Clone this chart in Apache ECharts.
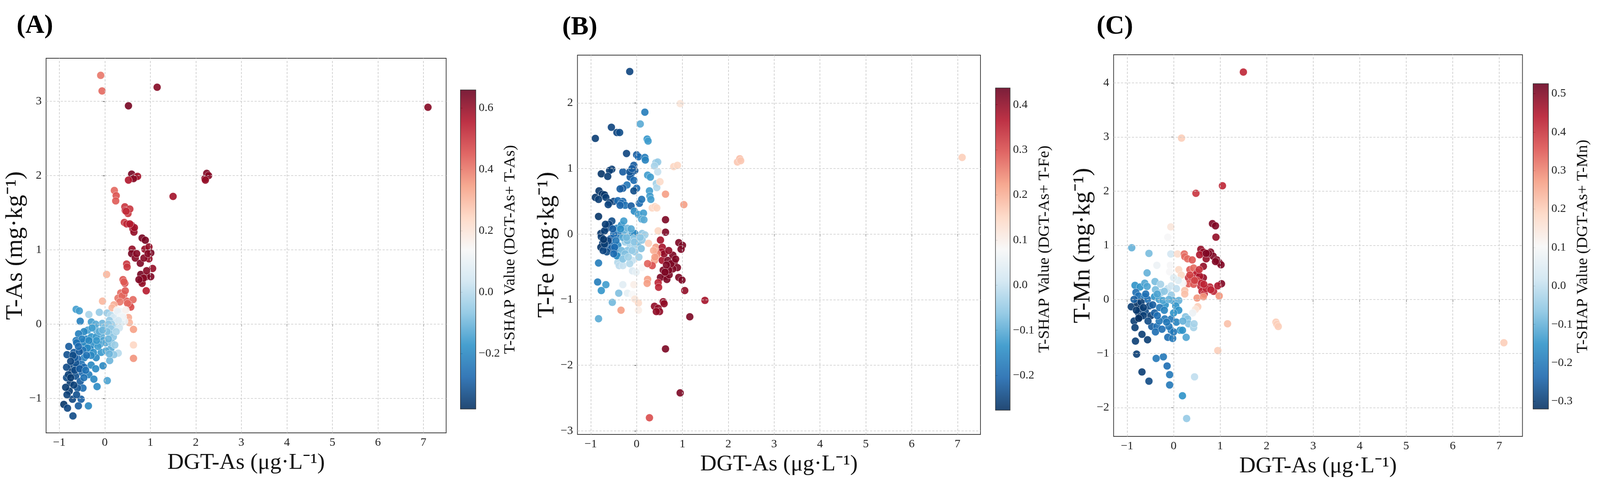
<!DOCTYPE html>
<html>
<head>
<meta charset="utf-8">
<title>SHAP interaction scatter</title>
<script src="https://cdn.jsdelivr.net/npm/echarts@6/dist/echarts.min.js"></script>
<style>
  html, body { margin: 0; padding: 0; background: #fff; overflow: hidden; }
  #chart { width: 100vw; height: 100vh; }
</style>
</head>
<body>
<div id="chart"></div>
<script>
// ---- data: [DGT-As, T-metal, T-SHAP interaction value] ----
const pointsA = [
  [-0.09,3.35,0.40],[-0.06,3.14,0.42],[1.15,3.19,0.62],[0.52,2.94,0.64],[7.1,2.92,0.62],
  [2.2,1.96,0.62],[2.24,2.03,0.63],[2.28,2.0,0.62],[2.21,1.94,0.6],[1.5,1.72,0.58],
  [0.59,2.02,0.64],[0.67,1.98,0.6],[0.72,1.99,0.58],[0.63,1.96,0.62],[0.52,1.94,0.56],
  [0.21,1.8,0.42],[0.25,1.73,0.45],[0.24,1.66,0.44],
  [0.44,1.58,0.5],[0.45,1.53,0.52],[0.51,1.49,0.5],[0.43,1.37,0.5],[0.48,1.35,0.52],
  [0.59,1.33,0.6],[0.62,1.28,0.58],[0.64,1.24,0.6],[0.82,1.16,0.64],[0.89,1.13,0.64],
  [0.6,1.01,0.6],[0.59,0.95,0.64],[0.67,0.89,0.62],[0.78,0.82,0.63],[0.88,1.01,0.6],
  [0.97,1.04,0.6],[1.01,0.96,0.64],[0.97,0.88,0.6],[0.86,0.89,0.62],
  [0.48,0.81,0.5],[0.49,0.77,0.5],[0.55,1.55,0.5],[0.65,1.3,0.58],[0.95,0.95,0.62],
  [0.79,0.67,0.64],[0.8,0.58,0.62],[0.91,0.64,0.62],[1.05,0.75,0.6],[1.01,0.64,0.63],
  [0.82,0.55,0.6],[0.91,0.45,0.55],[0.85,0.62,0.62],
  [0.7,0.95,0.62],[0.92,0.72,0.62],[0.75,0.6,0.63],[0.47,1.52,0.52],[0.55,1.35,0.55],
  [0.04,0.67,0.3],[0.4,0.6,0.45],[0.44,0.55,0.46],[0.42,0.57,0.44],
  [0.35,0.42,0.42],[0.42,0.4,0.44],[0.29,0.35,0.4],[0.48,0.31,0.43],[0.62,0.33,0.42],
  [0.54,0.26,0.45],[0.57,0.23,0.46],[0.38,0.38,0.42],[0.5,0.28,0.42],[0.45,0.45,0.44],[0.33,0.3,0.4],
  [-0.05,0.31,0.3],[0.2,0.26,0.32],[0.16,0.22,0.3],
  [0.27,0.19,0.16],[0.35,0.17,0.12],[0.46,0.19,0.16],
  [0.52,0.09,0.32],[0.54,0.02,0.3],[0.63,-0.07,0.34],[0.63,-0.28,0.24],[0.63,-0.46,0.36],
  [-0.63,0.2,-0.15],[-0.56,0.18,-0.15],[-0.54,0.04,-0.22],[-0.35,0.13,-0.02],[-0.12,0.16,-0.05],
  [0.05,0.15,-0.05],[0.13,0.12,0.0],[0.2,0.09,0.05],[0.28,0.17,0.1],[0.35,0.1,0.12],
  [0.43,0.04,0.1],[0.24,0.02,0.02],[0.35,0.01,0.08],[0.19,-0.04,-0.02],[0.1,0.05,-0.05],
  [0.15,0.0,-0.03],[0.32,-0.05,0.04],[0.4,0.1,0.12],
  [-0.295,0.03,-0.15],[-0.228,-0.04,-0.12],[-0.375,-0.08,-0.15],[-0.456,-0.1,-0.2],
  [-0.576,-0.13,-0.22],[-0.63,-0.22,-0.23],[-0.40,-0.2,-0.2],[-0.295,-0.17,-0.17],
  [-0.188,-0.08,-0.12],[-0.054,0.01,-0.1],[0.0,-0.04,-0.08],[0.08,0.0,-0.06],
  [0.134,-0.06,-0.05],[-0.08,-0.15,-0.12],[-0.188,-0.17,-0.16],[-0.027,-0.22,-0.14],
  [0.107,-0.13,-0.08],[0.188,-0.17,-0.06],[0.134,-0.33,-0.12],[-0.107,-0.27,-0.15],
  [-0.255,-0.27,-0.18],[-0.322,-0.33,-0.2],[-0.43,-0.31,-0.22],[-0.47,-0.24,-0.2],
  [-0.08,-0.38,-0.16],[0.027,-0.36,-0.13],[0.107,-0.49,-0.1],[-0.04,-0.56,-0.2],
  [0.295,-0.39,0.0],[0.2,-0.41,-0.06],[-0.19,-0.45,-0.2],[0.054,-0.76,-0.14],
  [-0.15,-0.3,-0.15],[0.05,-0.1,-0.08],[-0.2,0.0,-0.12],[0.25,-0.1,-0.02],[0.3,0.05,0.05],
  [-0.45,-0.45,-0.22],[-0.3,-0.55,-0.2],[-0.5,-0.2,-0.22],[-0.38,-0.32,-0.2],[-0.25,-0.38,-0.18],
  [-0.12,-0.1,-0.12],[0.02,-0.25,-0.12],[-0.28,-0.05,-0.15],[0.15,-0.25,-0.08],
  [-0.62,-0.25,-0.25],[-0.48,-0.35,-0.24],[-0.35,-0.22,-0.2],[-0.18,-0.22,-0.16],[-0.05,-0.08,-0.1],
  [0.08,-0.2,-0.1],[-0.3,-0.42,-0.2],[-0.2,-0.6,-0.19],[0.1,-0.4,-0.1],[0.22,-0.28,-0.04],
  [-0.79,-0.3,-0.3],[-0.83,-0.41,-0.32],[-0.68,-0.38,-0.3],[-0.56,-0.37,-0.3],
  [-0.59,-0.47,-0.28],[-0.72,-0.57,-0.33],[-0.84,-0.58,-0.33],[-0.62,-0.58,-0.3],
  [-0.51,-0.54,-0.25],[-0.456,-0.58,-0.27],[-0.72,-0.64,-0.36],[-0.76,-0.79,-0.36],
  [-0.84,-0.72,-0.33],[-0.64,-0.7,-0.32],[-0.54,-0.77,-0.3],[-0.48,-0.86,-0.26],
  [-0.35,-0.68,-0.22],[-0.24,-0.74,-0.2],[-0.17,-0.84,-0.19],[-0.78,-0.9,-0.36],
  [-0.71,-1.01,-0.34],[-0.83,-0.95,-0.35],[-0.9,-1.08,-0.37],[-0.82,-1.13,-0.34],
  [-0.52,-1.01,-0.29],[-0.58,-1.1,-0.3],[-0.36,-1.1,-0.2],[-0.7,-1.235,-0.33],
  [-0.4,-0.42,-0.25],[-0.64,-0.52,-0.32],[-0.66,-0.45,-0.3],[-0.5,-0.65,-0.27],[-0.6,-0.86,-0.31],
  [-0.7,-0.42,-0.33],[-0.75,-0.5,-0.34],[-0.66,-0.62,-0.33],[-0.58,-0.3,-0.27],
  [-0.68,-0.82,-0.35],[-0.8,-0.68,-0.35],[-0.46,-0.72,-0.25],
  [-0.55,-0.6,-0.3],[-0.42,-0.62,-0.25],[-0.75,-0.72,-0.36],[-0.86,-0.85,-0.36],[-0.62,-0.95,-0.32]
];

const pointsB = [
  [-0.15,2.48,-0.25],[0.95,1.99,0.12],[0.18,1.86,-0.17],[0.08,1.68,-0.1],[-0.55,1.63,-0.25],
  [-0.43,1.55,-0.25],[-0.37,1.55,-0.24],[-0.9,1.46,-0.26],[0.23,1.45,-0.13],[0.25,1.42,-0.12],
  [2.2,1.1,0.17],[2.25,1.15,0.18],[2.27,1.12,0.17],[7.1,1.17,0.16],[0.95,-2.42,0.42],[0.28,-2.8,0.3],
  [-0.22,1.23,-0.25],[0.0,1.21,-0.22],[0.04,1.18,-0.2],[0.18,1.17,-0.17],[0.19,1.13,-0.16],
  [0.42,1.09,-0.05],[0.46,1.1,-0.05],[0.39,1.04,-0.03],[0.46,0.95,0.0],
  [0.81,1.03,0.15],[0.89,1.05,0.15],
  [-0.06,1.05,-0.22],[-0.04,0.97,-0.23],[-0.12,0.92,-0.22],[-0.14,0.87,-0.22],[-0.06,0.82,-0.2],
  [-0.54,0.99,-0.26],[-0.59,0.97,-0.26],[-0.77,0.92,-0.27],[-0.63,0.88,-0.26],
  [-0.3,0.95,-0.22],[-0.15,0.95,-0.23],[0.0,0.7,-0.2],[-0.5,0.5,-0.25],[-0.1,1.0,-0.22],
  [0.24,0.9,-0.12],[0.3,0.87,-0.12],[0.43,0.77,-0.04],[0.44,0.71,-0.02],[0.51,0.8,0.14],
  [-0.21,0.75,-0.18],[-0.3,0.7,-0.22],[-0.36,0.69,-0.22],[-0.06,0.66,-0.24],
  [-0.82,0.66,-0.27],[-0.75,0.61,-0.27],[-0.9,0.56,-0.27],[-0.83,0.53,-0.26],[-0.7,0.6,-0.27],
  [-0.67,0.56,-0.26],[-0.59,0.48,-0.26],[-0.62,0.45,-0.25],[-0.3,0.5,-0.2],
  [-0.41,0.51,-0.2],[-0.33,0.47,-0.2],[-0.25,0.44,-0.19],[-0.36,0.44,-0.21],[-0.12,0.43,-0.22],
  [0.06,0.47,-0.2],[0.11,0.53,-0.19],[0.28,0.66,-0.12],[0.29,0.58,-0.12],[0.31,0.53,-0.12],
  [0.63,0.61,0.22],[1.03,0.45,0.22],[0.34,0.4,0.15],[0.4,0.42,0.15],[0.44,0.4,0.15],
  [-0.05,0.35,-0.15],[0.04,0.3,-0.12],[0.15,0.32,-0.12],[0.11,0.23,-0.1],[0.16,0.22,-0.1],
  [-0.83,0.27,-0.27],[0.63,0.22,0.42],[0.63,0.03,0.42],[0.47,0.05,0.15],
  [-0.54,0.2,-0.24],[-0.59,0.12,-0.25],[-0.65,0.09,-0.25],[-0.78,0.01,-0.27],[-0.77,-0.04,-0.26],
  [-0.74,-0.14,-0.25],[-0.78,-0.2,-0.27],[-0.67,-0.2,-0.24],[-0.57,-0.07,-0.22],[-0.54,-0.17,-0.2],
  [-0.43,0.09,-0.15],[-0.38,-0.01,-0.18],[-0.46,-0.25,-0.2],[-0.55,-0.22,-0.22],[-0.65,-0.27,-0.24],
  [-0.73,-0.25,-0.25],[-0.41,-0.17,-0.15],[-0.33,0.14,-0.15],[-0.28,0.2,-0.12],[-0.25,0.04,-0.1],
  [-0.2,0.09,-0.08],[-0.14,-0.01,-0.05],[-0.09,0.01,-0.12],[-0.04,0.01,-0.15],[-0.06,-0.07,-0.06],
  [-0.25,-0.12,-0.04],[-0.14,-0.17,-0.03],[-0.04,-0.17,-0.04],[0.04,-0.12,-0.08],[-0.2,-0.25,-0.06],
  [-0.33,-0.25,-0.08],[-0.41,-0.33,-0.1],[-0.33,-0.38,-0.05],[-0.25,-0.3,-0.07],[0.12,0.01,-0.06],
  [0.18,-0.01,-0.04],[0.12,-0.09,-0.05],[0.1,-0.22,-0.07],[-0.04,-0.27,-0.05],[-0.41,-0.43,-0.02],
  [-0.38,-0.48,-0.01],[-0.3,-0.48,0.0],[-0.09,-0.4,0.0],[-0.09,-0.56,0.03],[-0.01,-0.58,0.05],
  [0.12,-0.51,0.08],[-0.43,-0.33,-0.15],
  [-0.7,0.05,-0.26],[-0.62,-0.1,-0.25],[-0.5,0.0,-0.2],[-0.45,-0.1,-0.18],[-0.3,-0.05,-0.1],
  [-0.2,-0.1,-0.07],[-0.1,-0.25,-0.05],[0.05,-0.35,-0.04],[-0.15,-0.45,-0.02],[-0.6,0.15,-0.25],
  [-0.7,-0.15,-0.26],[-0.72,-0.08,-0.27],[-0.68,0.15,-0.26],[-0.52,0.08,-0.22],[-0.48,-0.2,-0.2],
  [-0.35,0.08,-0.14],[-0.22,-0.05,-0.08],[-0.12,0.08,-0.1],[-0.05,-0.12,-0.06],[0.08,-0.05,-0.06],
  [-0.3,-0.38,-0.06],[-0.18,-0.35,-0.04],[-0.5,-0.3,-0.2],
  [0.26,-0.14,0.16],[0.42,-0.2,0.22],[0.43,-0.27,0.22],[0.44,-0.35,0.24],[0.39,-0.4,0.22],
  [0.34,-0.48,0.3],[0.24,-0.45,0.28],[0.52,-0.09,0.38],[0.56,-0.2,0.38],[0.55,-0.27,0.38],
  [0.56,-0.4,0.38],[0.92,-0.13,0.42],[1.0,-0.17,0.42],[0.97,-0.23,0.42],[0.68,-0.4,0.42],
  [0.79,-0.32,0.42],[0.82,-0.43,0.42],[0.89,-0.51,0.42],[0.79,-0.53,0.42],[0.58,-0.55,0.42],
  [0.63,-0.64,0.42],[0.52,-0.66,0.42],[0.66,-0.69,0.42],[0.71,-0.62,0.42],[0.92,-0.66,0.42],
  [0.99,-0.7,0.42],[0.47,-0.74,0.35],[0.48,-0.81,0.35],[0.24,-0.69,0.22],[0.23,-0.75,0.22],
  [0.6,-0.3,0.4],[0.75,-0.45,0.42],[0.7,-0.55,0.42],[0.45,-0.3,0.24],[0.37,-0.25,0.2],
  [0.65,-0.47,0.42],[0.85,-0.38,0.42],[0.7,-0.25,0.4],[0.62,-0.58,0.42],[0.4,-0.35,0.22],
  [1.05,-0.86,0.4],[0.39,-1.1,0.4],[0.47,-1.13,0.4],[0.5,-1.18,0.4],[0.43,-1.18,0.4],
  [0.58,-1.03,0.4],[0.6,-1.06,0.4],[1.49,-1.01,0.38],[1.16,-1.26,0.42],[0.63,-1.75,0.42],
  [-0.83,-0.44,-0.17],[-0.85,-0.73,-0.17],[-0.67,-0.77,-0.12],[-0.77,-0.86,-0.13],
  [-0.39,-0.9,-0.07],[-0.53,-1.04,-0.08],[-0.83,-1.29,-0.1],[-0.34,-1.16,0.22],
  [-0.3,-0.77,0.04],[-0.2,-0.9,0.05],[-0.09,-0.92,0.08],[-0.04,-0.99,0.12],[0.04,-1.05,0.14],
  [0.04,-1.16,0.1],[-0.06,-0.77,0.1]
];

const pointsC = [
  [1.5,4.2,0.42],[0.17,2.98,0.2],[1.05,2.1,0.42],[0.48,1.96,0.4],
  [2.2,-0.42,0.2],[2.22,-0.46,0.2],[2.25,-0.5,0.2],[7.1,-0.8,0.2],
  [0.835,1.4,0.5],[0.9,1.36,0.5],[0.91,1.15,0.48],[-0.06,1.34,0.15],[-0.125,1.15,0.1],
  [-0.9,0.955,-0.1],[-0.53,0.85,-0.08],[-0.06,0.84,0.03],[0.085,0.84,0.17],
  [0.23,0.84,0.33],[0.24,0.79,0.33],[0.3,0.75,0.33],[0.4,0.73,0.35],
  [0.585,0.925,0.48],[0.64,0.875,0.48],[0.56,0.825,0.45],[0.795,0.875,0.5],[0.85,0.8,0.5],
  [0.7,0.75,0.48],[0.64,0.61,0.48],[0.93,0.73,0.5],[0.98,0.68,0.5],[1.02,0.64,0.5],[0.75,0.85,0.5],
  [0.9,0.7,0.5],[0.7,0.85,0.5],
  [-0.36,0.63,0.08],[-0.07,0.63,0.1],[-0.085,0.51,0.1],[-0.57,0.49,-0.1],
  [0.11,0.55,0.18],[0.165,0.45,0.18],[0.35,0.55,0.35],[0.43,0.58,0.33],[0.51,0.5,0.4],
  [0.48,0.46,0.42],[0.64,0.4,0.48],[0.56,0.43,0.45],[0.32,0.4,0.4],[0.4,0.4,0.4],
  [0.32,0.29,0.35],[0.43,0.28,0.35],[0.585,0.24,0.42],[0.61,0.15,0.42],[0.78,0.23,0.42],
  [0.86,0.15,0.42],[1.03,0.29,0.5],[0.95,0.25,0.45],[0.66,0.1,0.4],[0.24,0.165,0.22],
  [0.5,0.35,0.38],[0.6,0.3,0.42],[0.7,0.2,0.42],[0.55,0.55,0.4],
  [0.35,0.45,0.38],[0.45,0.35,0.38],[0.65,0.28,0.42],[0.8,0.18,0.42],
  [0.24,0.1,0.22],[0.505,0.025,0.28],[0.64,0.05,0.28],[0.98,0.065,0.28],[0.52,-0.135,0.2],
  [0.47,-0.185,0.15],[0.41,-0.25,0.08],[1.16,-0.45,0.22],[0.95,-0.945,0.2],[0.45,-1.43,0.0],
  [0.28,-2.2,-0.05],[0.19,-1.78,-0.15],[-0.085,-1.39,-0.2],[-0.085,-1.58,-0.2],[-0.14,-1.23,-0.22],
  [-0.22,-1.06,-0.2],[-0.375,-1.09,-0.2],[-0.68,-1.34,-0.3],[-0.53,-1.51,-0.28],[-0.795,-1.01,-0.3],
  [-0.82,-0.77,-0.3],[-0.68,-0.645,-0.3],[-0.56,-0.745,-0.3],
  [0.2,0.3,0.1],[0.1,0.35,0.05],[0.0,0.4,0.05],
  [-0.83,0.26,-0.15],[-0.72,0.23,-0.15],[-0.62,0.3,-0.12],[-0.57,0.24,-0.12],[-0.4,0.33,-0.08],
  [-0.28,0.28,-0.03],[-0.39,0.18,-0.08],[-0.26,0.13,-0.05],[-0.125,0.2,0.0],[-0.05,0.25,0.02],
  [0.06,0.2,0.0],[-0.81,0.13,-0.22],[-0.755,0.065,-0.22],[-0.62,0.05,-0.2],[-0.56,0.0,-0.22],
  [-0.41,0.05,-0.15],[-0.31,0.0,-0.13],[-0.18,-0.1,-0.15],[-0.23,-0.02,-0.12],[-0.05,0.08,-0.05],
  [-0.02,-0.02,-0.12],[0.11,-0.02,-0.1],[0.046,-0.12,-0.15],[0.11,-0.2,-0.15],[-0.91,-0.135,-0.3],
  [-0.78,-0.07,-0.32],[-0.72,-0.17,-0.31],[-0.755,-0.25,-0.3],[-0.72,-0.32,-0.32],[-0.61,-0.22,-0.28],
  [-0.52,-0.12,-0.28],[-0.49,-0.3,-0.3],[-0.41,-0.25,-0.25],[-0.85,0.0,-0.25],[-0.85,-0.4,-0.3],
  [-0.83,-0.52,-0.3],[-0.47,-0.5,-0.25],[-0.36,-0.5,-0.22],[-0.39,-0.6,-0.22],[-0.19,-0.36,-0.2],
  [-0.05,-0.36,-0.2],[0.06,-0.42,-0.18],[-0.05,-0.57,-0.2],[-0.125,-0.7,-0.22],[-0.02,-0.72,-0.2],
  [0.14,-0.57,-0.15],[0.19,-0.57,-0.15],[0.27,-0.7,-0.12],[0.256,-0.32,-0.07],[0.3,-0.36,-0.07],
  [0.32,-0.45,-0.07],[0.43,-0.52,-0.03],[0.44,-0.45,-0.03],[-0.31,-0.4,-0.2],
  [-0.7,-0.05,-0.3],[-0.65,-0.3,-0.3],[-0.6,0.1,-0.22],[-0.45,-0.1,-0.25],[-0.3,-0.15,-0.2],
  [-0.2,-0.2,-0.18],[-0.1,0.0,-0.1],[0.0,-0.25,-0.15],[0.2,-0.4,-0.1],[-0.25,-0.55,-0.22],
  [-0.1,-0.5,-0.2],[-0.8,-0.2,-0.31],[-0.75,-0.35,-0.32],[-0.65,-0.15,-0.3],[-0.55,-0.4,-0.28],
  [-0.35,-0.3,-0.22],[-0.15,-0.42,-0.2],[0.0,-0.6,-0.2],[-0.35,0.1,-0.12],[-0.2,0.15,-0.06]
];

// axis ranges and ticks
const xRange = [-1.29, 7.5];
const xTicks = [-1, 0, 1, 2, 3, 4, 5, 6, 7];
const yRangeA = [-1.463, 3.58];
const yRangeB = [-3.054, 2.73];
const yRangeC = [-2.53, 4.52];
const yTicksA = [-1, 0, 1, 2, 3];
const yTicksB = [-3, -2, -1, 0, 1, 2];
const yTicksC = [-2, -1, 0, 1, 2, 3, 4];

// colour bar ranges and ticks
const shapRangeA = [-0.381, 0.659];
const shapRangeB = [-0.277, 0.437];
const shapRangeC = [-0.32, 0.526];
const cbTicksA = [-0.2, 0, 0.2, 0.4, 0.6];
const cbTicksB = [-0.2, -0.1, 0, 0.1, 0.2, 0.3, 0.4];
const cbTicksC = [-0.3, -0.2, -0.1, 0, 0.1, 0.2, 0.3, 0.4, 0.5];

// RdBu_r, nudged a little more saturated to match the printed figure
const rdbu = ['#053061','#1a66ad','#2d92c8','#88c4e2','#cfe5f1','#f7f7f7',
              '#fdd6c2','#f59d82','#dc5250','#b4162c','#69001f'];

const FONT = '"Liberation Serif", "Times New Roman", serif';
const MINUS = '\u2212';

// layout is designed on a 4375 x 1248 page and scaled to whatever the viewport is
const BASE_W = 4375, BASE_H = 1248;
const dom = document.getElementById('chart');
const W = dom.clientWidth || BASE_W;
const H = dom.clientHeight || BASE_H;
const sx = W / BASE_W, sy = H / BASE_H, k = Math.min(sx, sy);
const X = v => v * sx, Y = v => v * sy, S = v => v * k;

function fmtInt(v) { return v < 0 ? MINUS + Math.abs(v) : String(v); }
function fmt1(v) {
  const s = Math.abs(v).toFixed(1);
  return v < -1e-9 ? MINUS + s : s;
}

const panels = [
  { tag: '(A)', pts: pointsA, yRange: yRangeA, yTicks: yTicksA, cbRange: shapRangeA, cbTicks: cbTicksA,
    yName: 'T-As (mg·kg⁻¹)', cbName: 'T-SHAP Value (DGT-As+ T-As)',
    grid: [126, 149, 1094, 958], cb: [1259, 230, 42, 816], tagPos: [40, 28] },
  { tag: '(B)', pts: pointsB, yRange: yRangeB, yTicks: yTicksB, cbRange: shapRangeB, cbTicks: cbTicksB,
    yName: 'T-Fe (mg·kg⁻¹)', cbName: 'T-SHAP Value (DGT-As+ T-Fe)',
    grid: [1579, 141, 1102, 970], cb: [2722, 225, 40, 824], tagPos: [1532, 32] },
  { tag: '(C)', pts: pointsC, yRange: yRangeC, yTicks: yTicksC, cbRange: shapRangeC, cbTicks: cbTicksC,
    yName: 'T-Mn (mg·kg⁻¹)', cbName: 'T-SHAP Value (DGT-As+ T-Mn)',
    grid: [3045, 140, 1118, 976], cb: [4192, 214, 42, 832], tagPos: [2993, 30] }
];

const box = b => ({ left: X(b[0]), top: Y(b[1]), width: X(b[2]), height: Y(b[3]) });

const option = {
  animation: false,
  backgroundColor: '#fff',
  title: [], grid: [], xAxis: [], yAxis: [], series: [], visualMap: []
};

const tickStyle = { color: '#333', width: S(1.5) };
const labelBase = { fontFamily: FONT, fontSize: X(32), color: '#222' };

panels.forEach((p, i) => {
  const g = i * 2;       // main grid index, colour bar is g + 1
  const s0 = i * 3;      // gridlines, dots, colour bar

  option.title.push({
    text: p.tag, left: X(p.tagPos[0]), top: Y(p.tagPos[1]),
    textStyle: { fontFamily: FONT, fontWeight: 'bold', fontSize: S(72), color: '#000' }
  });

  option.grid.push(Object.assign({ show: true, borderColor: '#3a3a3a', borderWidth: S(2),
    backgroundColor: '#fff' }, box(p.grid)));
  option.grid.push(Object.assign({ show: false }, box(p.cb)));

  option.xAxis.push({
    gridIndex: g, type: 'value', min: xRange[0], max: xRange[1],
    axisLine: { show: false }, splitLine: { show: false },
    axisTick: { show: true, customValues: xTicks, length: S(6), lineStyle: tickStyle },
    axisLabel: Object.assign({ customValues: xTicks, formatter: fmtInt, margin: Y(10) }, labelBase),
    name: 'DGT-As (μg·L⁻¹)', nameLocation: 'middle', nameGap: Y(48),
    nameTextStyle: { fontFamily: FONT, fontSize: X(62), color: '#111' }
  });
  option.xAxis.push({ gridIndex: g + 1, type: 'value', min: 0, max: 1, show: false });

  option.yAxis.push({
    gridIndex: g, type: 'value', min: p.yRange[0], max: p.yRange[1],
    axisLine: { show: false }, splitLine: { show: false },
    axisTick: { show: true, customValues: p.yTicks, length: S(6), lineStyle: tickStyle },
    axisLabel: Object.assign({ customValues: p.yTicks, formatter: fmtInt, margin: X(12) }, labelBase),
    name: p.yName, nameLocation: 'middle', nameGap: X(36), nameRotate: 90,
    nameTextStyle: { fontFamily: FONT, fontSize: Y(62), color: '#111' }
  });
  option.yAxis.push({
    gridIndex: g + 1, type: 'value', position: 'right', min: p.cbRange[0], max: p.cbRange[1],
    axisLine: { show: false }, splitLine: { show: false },
    axisTick: { show: true, customValues: p.cbTicks, length: S(6), lineStyle: tickStyle },
    axisLabel: Object.assign({ customValues: p.cbTicks, formatter: fmt1, margin: X(8) }, labelBase),
    name: p.cbName, nameLocation: 'middle', nameGap: X(72), nameRotate: 90,
    nameTextStyle: { fontFamily: FONT, fontSize: Y(41), color: '#111' }
  });

  // dashed grid lines at the tick values, under the dots
  option.series.push({
    type: 'scatter', xAxisIndex: g, yAxisIndex: g, data: [], silent: true, z: 1,
    markLine: {
      silent: true, symbol: ['none', 'none'], label: { show: false },
      lineStyle: { color: '#cccccc', width: S(1.8), type: [S(6), S(4)] },
      data: xTicks.map(v => ({ xAxis: v })).concat(p.yTicks.map(v => ({ yAxis: v })))
    }
  });

  option.series.push({
    type: 'scatter', xAxisIndex: g, yAxisIndex: g, data: p.pts, z: 3,
    symbolSize: S(21),
    itemStyle: { opacity: 0.9, borderColor: 'rgba(255,255,255,0.75)', borderWidth: S(1) }
  });

  const range = p.cbRange;
  option.series.push({
    type: 'custom', xAxisIndex: g + 1, yAxisIndex: g + 1, data: [[0]], silent: true,
    renderItem: (params, api) => {
      const lo = api.coord([0, range[0]]);
      const hi = api.coord([1, range[1]]);
      const shape = { x: lo[0], y: hi[1], width: hi[0] - lo[0], height: lo[1] - hi[1] };
      const stops = rdbu.map((c, n) => ({ offset: n / (rdbu.length - 1), color: c }));
      return {
        type: 'group',
        children: [
          { type: 'rect', shape: shape,
            style: { fill: new echarts.graphic.LinearGradient(0, 1, 0, 0, stops), opacity: 0.88 } },
          { type: 'rect', shape: shape, style: { fill: 'none', stroke: '#333', lineWidth: S(1.5) } }
        ]
      };
    }
  });

  option.visualMap.push({
    type: 'continuous', show: false, seriesIndex: s0 + 1, dimension: 2,
    min: range[0], max: range[1], inRange: { color: rdbu }
  });
});

const chart = echarts.init(dom, null, { width: W, height: H });
chart.setOption(option);
</script>
</body>
</html>
